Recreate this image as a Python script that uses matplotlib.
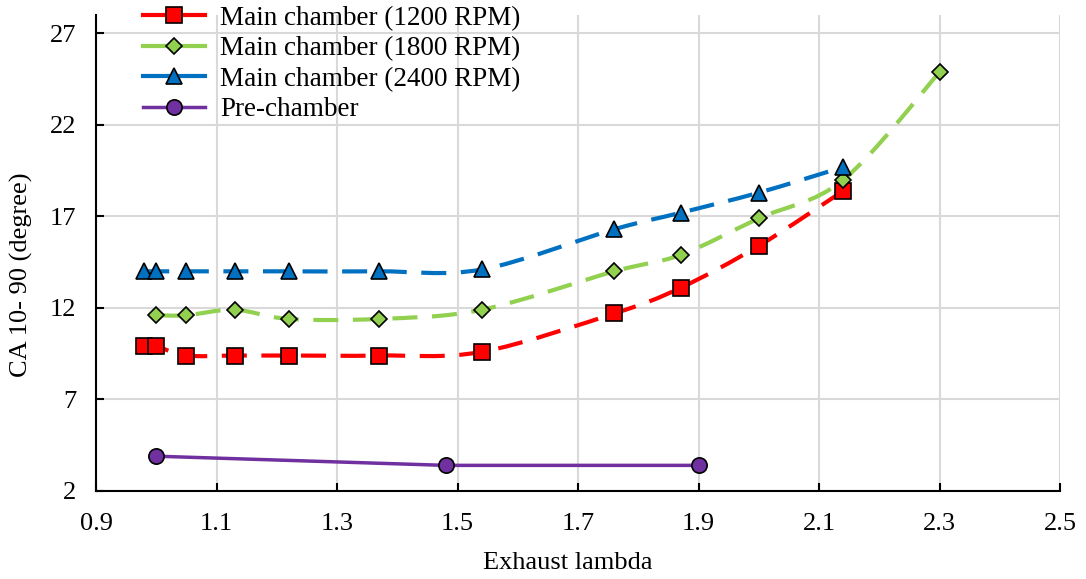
import numpy as np
import matplotlib
matplotlib.use('Agg')
import matplotlib.pyplot as plt
from matplotlib.path import Path
from matplotlib.patches import PathPatch
from matplotlib.lines import Line2D

plt.rcParams['font.family'] = ['Liberation Serif', 'DejaVu Serif']
plt.rcParams['font.size'] = 19

# data
lam_main = [0.98, 1.0, 1.05, 1.13, 1.22, 1.37, 1.54, 1.76, 1.87, 2.0, 2.14]
ca_1200 = [9.9, 9.9, 9.4, 9.4, 9.4, 9.4, 9.6, 11.7, 13.1, 15.4, 18.4]
lam_1800 = [1.0, 1.05, 1.13, 1.22, 1.37, 1.54, 1.76, 1.87, 2.0, 2.14, 2.3]
ca_1800 = [11.6, 11.6, 11.9, 11.4, 11.4, 11.9, 14.0, 14.9, 16.9, 19.0, 24.9]
ca_2400 = [14.0, 14.0, 14.0, 14.0, 14.0, 14.0, 14.1, 16.3, 17.2, 18.3, 19.7]
lam_pre = [1.0, 1.48, 1.9]
ca_pre = [3.9, 3.4, 3.4]

labels = ['Main chamber (1200 RPM)', 'Main chamber (1800 RPM)',
          'Main chamber (2400 RPM)', 'Pre-chamber']
colors = ['#FF0000', '#92D050', '#0070C0', '#7030A0']


def smooth_path(x, y):
    # Excel-like smoothed line: Catmull-Rom turned into cubic Bezier segments
    x = np.asarray(x, float)
    y = np.asarray(y, float)
    verts = [(x[0], y[0])]
    codes = [Path.MOVETO]
    n = len(x)
    for i in range(n - 1):
        p0 = (x[max(i - 1, 0)], y[max(i - 1, 0)])
        p1 = (x[i], y[i])
        p2 = (x[i + 1], y[i + 1])
        p3 = (x[min(i + 2, n - 1)], y[min(i + 2, n - 1)])
        c1 = (p1[0] + (p2[0] - p0[0]) / 6, p1[1] + (p2[1] - p0[1]) / 6)
        c2 = (p2[0] - (p3[0] - p1[0]) / 6, p2[1] - (p3[1] - p1[1]) / 6)
        verts += [c1, c2, p2]
        codes += [Path.CURVE4] * 3
    return Path(verts, codes)


fig = plt.figure(figsize=(10.86, 5.79), dpi=100)
ax = fig.add_axes([0.0884, 0.152, 0.888, 0.822])

mk_style = [('s', 12), ('D', 8.5), ('^', 12), ('o', 11)]
series = [(lam_main, ca_1200), (lam_1800, ca_1800), (lam_main, ca_2400)]
for (xs, ys), (mk, ms), col in zip(series, mk_style, colors):
    ax.add_patch(PathPatch(smooth_path(xs, ys), facecolor='none', edgecolor=col,
                           lw=3, linestyle=(0, (6, 3.5)), zorder=2))
    ax.plot(xs, ys, ls='none', marker=mk, ms=ms, mfc=col, mec='black', mew=1.2, zorder=3)

ax.plot(lam_pre, ca_pre, color=colors[3], lw=2.5, marker='o', ms=11,
        mfc=colors[3], mec='black', mew=1.2, zorder=3)

ax.set_xlim(0.9, 2.5)
ax.set_ylim(2, 28)
ax.set_xticks(np.arange(0.9, 2.51, 0.2))
ax.set_xticklabels(['0.9', '1.1', '1.3', '1.5', '1.7', '1.9', '2.1', '2.3', '2.5'])
ax.set_yticks([2, 7, 12, 17, 22, 27])
ax.grid(color='#D9D9D9', lw=1.5)
ax.set_axisbelow(True)
for s in ['top', 'right']:
    ax.spines[s].set_visible(False)
ax.spines['left'].set_linewidth(1.5)
ax.spines['bottom'].set_linewidth(1.5)
ax.tick_params(direction='in', length=6, width=1.5, labelsize=19)
ax.tick_params(axis='x', pad=16)
ax.tick_params(axis='y', pad=14)
ax.set_xlabel('Exhaust lambda', fontsize=19)
ax.set_ylabel('CA 10- 90 (degree)', fontsize=19)
ax.xaxis.set_label_coords(0.489, -0.151)
ax.yaxis.set_label_coords(-0.077, 0.454)
ax.xaxis.label.set_va('center')
ax.yaxis.label.set_va('center')

handles = [
    Line2D([], [], color=c, lw=3 if i < 3 else 2.5, marker=m, ms=s, mfc=c,
           mec='black', mew=1.2)
    for i, (c, (m, s)) in enumerate(zip(colors, mk_style))
]
fig.legend(handles, labels, loc='upper left', bbox_to_anchor=(0.1317, 0.99),
           frameon=False, fontsize=19.5, handlelength=2.3, labelspacing=0.2,
           handletextpad=0.55, borderpad=0, borderaxespad=0)

fig.savefig('out.png', dpi=100)
